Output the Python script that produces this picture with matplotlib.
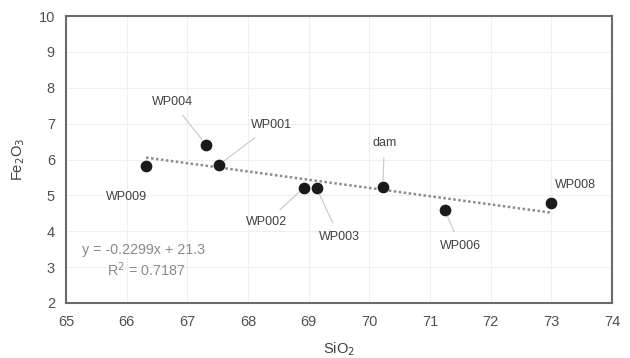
import matplotlib
matplotlib.use('Agg')
import matplotlib.pyplot as plt
import numpy as np

# sample data
names = ['WP009', 'WP004', 'WP001', 'WP002', 'WP003', 'dam', 'WP006', 'WP008']
sio2 = [66.32, 67.31, 67.52, 68.92, 69.13, 70.22, 71.24, 73.0]
fe2o3 = [5.82, 6.41, 5.85, 5.21, 5.21, 5.22, 4.60, 4.79]

# label positions (data coords) and whether a leader line is drawn
label_xy = [(66.0, 4.95), (66.75, 7.6), (68.38, 6.95), (68.3, 4.25),
            (69.5, 3.85), (70.25, 6.45), (71.5, 3.6), (73.4, 5.3)]
leader = [False, True, True, True, True, True, True, False]

slope, intercept = -0.2299, 21.3

plt.rcParams['font.family'] = ['Liberation Sans', 'DejaVu Sans']
fig = plt.figure(figsize=(6.3, 3.58), dpi=100)
ax = fig.add_axes([66 / 630, 1 - 303 / 358, 546 / 630, 287 / 358])

ax.grid(True, color='#efefef', linewidth=0.8)
ax.set_axisbelow(True)

xs = np.array([min(sio2), max(sio2)])
ax.plot(xs, slope * xs + intercept, linestyle=(0, (1, 1)), color='#8c8c8c', linewidth=1.8, zorder=2)
ax.scatter(sio2, fe2o3, s=55, color='#1a1a1a', zorder=3)

for n, x, y, lxy, ld in zip(names, sio2, fe2o3, label_xy, leader):
    if ld:
        ax.annotate(n, xy=(x, y), xytext=lxy, ha='center', va='center', fontsize=9,
                    color='#404040',
                    arrowprops=dict(arrowstyle='-', color='#c8c8c8', lw=0.8, shrinkA=4, shrinkB=5))
    else:
        ax.text(lxy[0], lxy[1], n, ha='center', va='center', fontsize=9, color='#404040')

ax.text(65.27, 3.48, 'y = -0.2299x + 21.3', ha='left', va='center', fontsize=10.3, color='#8a8a8a')
ax.text(65.68, 2.92, 'R$^2$ = 0.7187', ha='left', va='center', fontsize=10.3, color='#8a8a8a')

ax.set_xlim(65, 74)
ax.set_ylim(2, 10)
ax.set_xticks(range(65, 75))
ax.set_yticks(range(2, 11))
ax.tick_params(length=0, labelsize=10.5, labelcolor='#505050')
ax.tick_params(axis='x', pad=9)
ax.tick_params(axis='y', pad=8)
for sp in ax.spines.values():
    sp.set_color('#6a6a6a')
    sp.set_linewidth(1.5)

ax.set_xlabel('SiO$_2$', fontsize=10.5, color='#404040', labelpad=8)
ax.set_ylabel('Fe$_2$O$_3$', fontsize=10.5, color='#404040', labelpad=8)

fig.savefig('out.png', dpi=100)
